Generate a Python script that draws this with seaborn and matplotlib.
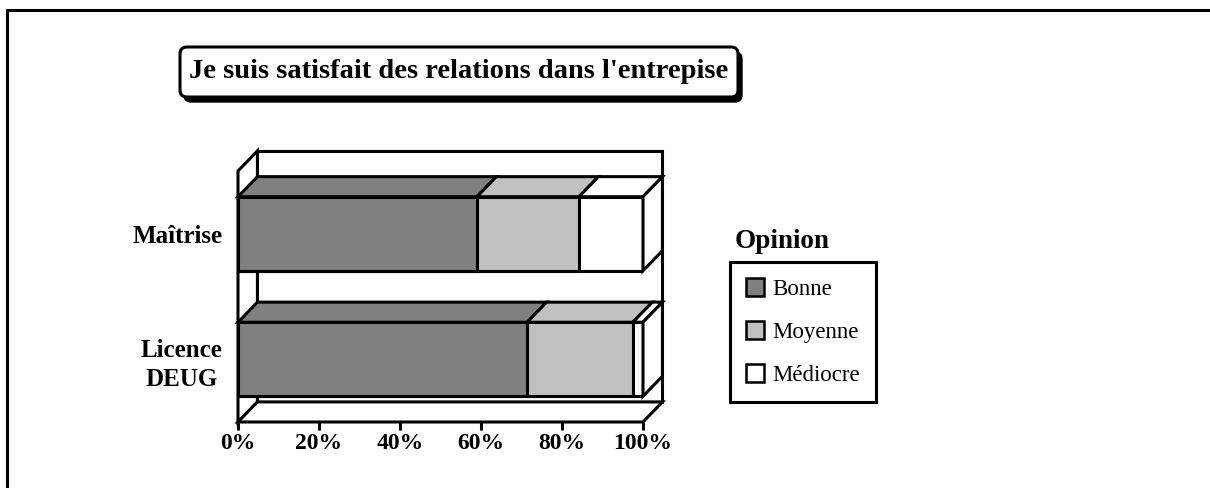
import numpy as np
import pandas as pd
import seaborn as sns
import matplotlib
matplotlib.use("Agg")
import matplotlib.pyplot as plt
from matplotlib.patches import Polygon, Patch, FancyBboxPatch
from matplotlib.lines import Line2D

# ---------------- data ----------------
categories = ["Maîtrise", "Licence\nDEUG"]
bonne = [59.0, 71.4]
moyenne = [25.2, 26.1]
mediocre = [15.8, 2.5]
series_names = ["Bonne", "Moyenne", "Médiocre"]
series_colors = ["#808080", "#c0c0c0", "#ffffff"]
x_ticks = [0, 20, 40, 60, 80, 100]
x_tick_labels = ["0%", "20%", "40%", "60%", "80%", "100%"]
title = "Je suis satisfait des relations dans l'entrepise"
legend_title = "Opinion"

# ---------------- style ----------------
sns.set_style("white")
plt.rcParams['font.family'] = ['Liberation Serif', 'DejaVu Serif']
for k in ("text.color", "axes.labelcolor", "xtick.color", "ytick.color"):
    plt.rcParams[k] = "black"

W, H = 1210, 488
fig = plt.figure(figsize=(W / 100, H / 100), dpi=100)
ax = fig.add_axes([238 / W, 1 - 422 / H, 405 / W, 251 / H])

df = pd.DataFrame({"cat": categories, "Bonne": bonne, "Moyenne": moyenne, "Médiocre": mediocre})
cum = df[series_names].cumsum(axis=1)
cum["cat"] = df["cat"]

BAR_W = 0.59
DX, DY = 4.8, 0.16
LW = 2.2
Y0, Y1 = -0.5, len(categories) - 0.5
XMAX = 100

# 3D walls
back = Polygon([(DX, Y1 - DY), (XMAX + DX, Y1 - DY), (XMAX + DX, Y0 - DY), (DX, Y0 - DY)],
               closed=True, facecolor="white", edgecolor="black", lw=LW, zorder=1, clip_on=False)
left = Polygon([(0, Y1), (0, Y0), (DX, Y0 - DY), (DX, Y1 - DY)],
               closed=True, facecolor="white", edgecolor="black", lw=LW, zorder=1.5, clip_on=False)
floor = Polygon([(0, Y1), (XMAX, Y1), (XMAX + DX, Y1 - DY), (DX, Y1 - DY)],
                closed=True, facecolor="white", edgecolor="black", lw=LW, zorder=1.5, clip_on=False)
for p in (back, left, floor):
    ax.add_patch(p)

# front faces via seaborn (cumulative overlay)
for name, color in reversed(list(zip(series_names, series_colors))):
    sns.barplot(data=cum, x=name, y="cat", orient="h", color=color, saturation=1,
                width=BAR_W, edgecolor="black", linewidth=LW, errorbar=None,
                ax=ax, zorder=3, order=categories)

# top and side faces
for i in range(len(categories)):
    top = i - BAR_W / 2
    bot = i + BAR_W / 2
    start = 0.0
    for name, color in zip(series_names, series_colors):
        end = cum.loc[i, name]
        ax.add_patch(Polygon([(start, top), (end, top), (end + DX, top - DY), (start + DX, top - DY)],
                             closed=True, facecolor=color, edgecolor="black", lw=LW,
                             zorder=3, clip_on=False))
        start = end
    last_color = series_colors[-1]
    ax.add_patch(Polygon([(start, top), (start + DX, top - DY), (start + DX, bot - DY), (start, bot)],
                         closed=True, facecolor=last_color, edgecolor="black", lw=LW,
                         zorder=3, clip_on=False))

ax.set_xlim(0, XMAX)
ax.set_ylim(Y1, Y0)
ax.patch.set_visible(False)
for s in ax.spines.values():
    s.set_visible(False)
ax.set_xlabel("")
ax.set_ylabel("")
ax.set_xticks(x_ticks)
ax.set_xticklabels(x_tick_labels, fontsize=17, fontweight="bold")
ax.tick_params(axis="x", length=6, width=LW, direction="out", color="black", pad=2, bottom=True)
ax.tick_params(axis="y", length=0, pad=11)
for lab in ax.get_yticklabels():
    lab.set_fontsize(18)
    lab.set_fontweight("bold")
    lab.set_multialignment("center")
    lab.set_linespacing(1.32)

# title box with shadow
shadow = FancyBboxPatch((1.84, 3.86), 5.58, 0.50, boxstyle="round,pad=0,rounding_size=0.07",
                        transform=fig.dpi_scale_trans, facecolor="black", edgecolor="black", lw=1)
box = FancyBboxPatch((1.80, 3.91), 5.58, 0.50, boxstyle="round,pad=0,rounding_size=0.07",
                     transform=fig.dpi_scale_trans, facecolor="white", edgecolor="black", lw=LW)
fig.add_artist(shadow)
fig.add_artist(box)
fig.text(459 / W, 1 - 72 / H, title, ha="center", va="center", fontsize=20.5, fontweight="bold")

# legend
handles = [Patch(facecolor=c, edgecolor="black", lw=1.8, label=n) for n, c in zip(series_names, series_colors)]
leg = ax.legend(handles=handles, loc="upper left", bbox_to_anchor=(730 / W, 1 - 262 / H),
                bbox_transform=fig.transFigure, frameon=True, fancybox=False, edgecolor="black",
                framealpha=1, fontsize=16.5, handlelength=0.8, handleheight=0.8, labelspacing=0.93,
                borderpad=0.7, handletextpad=0.35, borderaxespad=0)
leg.get_frame().set_linewidth(LW)
fig.text(735 / W, 1 - 241 / H, legend_title, ha="left", va="center", fontsize=19.5, fontweight="bold")

# outer border
fig.add_artist(Line2D([6.5 / W, 6.5 / W, 1.0], [0.0, 1 - 9.5 / H, 1 - 9.5 / H],
                      transform=fig.transFigure, color="black", lw=LW))

fig.savefig("out.png", dpi=100)
